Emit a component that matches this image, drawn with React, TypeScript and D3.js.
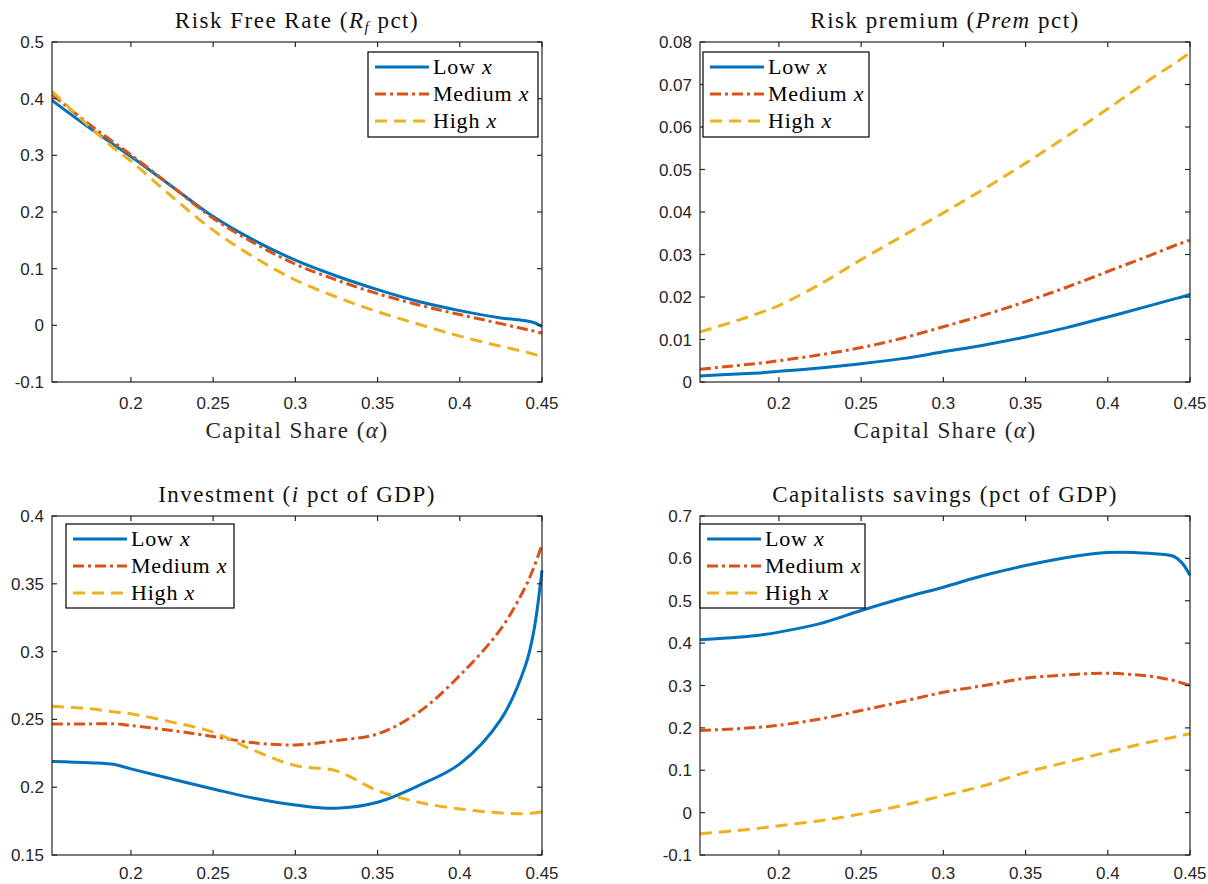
import React from 'react';
import * as d3 from 'd3';

// ---------- DATA ----------
const alpha = [0.152, 0.175, 0.19, 0.2, 0.225, 0.25, 0.275, 0.3, 0.325, 0.35, 0.375, 0.4, 0.425, 0.44, 0.445, 0.45];

const rfLow = [0.397, 0.348, 0.318, 0.298, 0.245, 0.192, 0.150, 0.115, 0.087, 0.063, 0.042, 0.026, 0.013, 0.008, 0.005, -0.002];
const rfMed = [0.407, 0.354, 0.322, 0.301, 0.245, 0.189, 0.145, 0.108, 0.080, 0.056, 0.036, 0.019, 0.003, -0.007, -0.010, -0.014];
const rfHigh = [0.413, 0.350, 0.312, 0.290, 0.227, 0.168, 0.120, 0.080, 0.050, 0.024, 0.002, -0.019, -0.037, -0.047, -0.051, -0.055];

const premLow = [0.0014, 0.0019, 0.0022, 0.0025, 0.0033, 0.0043, 0.0055, 0.0071, 0.0087, 0.0106, 0.0128, 0.0153, 0.0179, 0.0195, 0.0200, 0.0206];
const premMed = [0.0030, 0.0039, 0.0045, 0.0050, 0.0064, 0.0081, 0.0103, 0.0130, 0.0158, 0.0189, 0.0223, 0.0260, 0.0297, 0.0320, 0.0327, 0.0334];
const premHigh = [0.0118, 0.0145, 0.0165, 0.0180, 0.0230, 0.0288, 0.0343, 0.0398, 0.0455, 0.0515, 0.0578, 0.0643, 0.0710, 0.0748, 0.0761, 0.0775];

const invLow = [0.219, 0.218, 0.2167, 0.2135, 0.206, 0.1987, 0.1918, 0.1869, 0.1845, 0.1889, 0.2012, 0.2172, 0.250, 0.290, 0.315, 0.360];
const invMed = [0.2467, 0.2467, 0.2467, 0.2455, 0.2418, 0.2374, 0.2327, 0.2312, 0.2344, 0.2393, 0.2553, 0.2824, 0.3168, 0.348, 0.362, 0.3788];
const invHigh = [0.2597, 0.2578, 0.2555, 0.2541, 0.248, 0.2406, 0.227, 0.216, 0.212, 0.1975, 0.1889, 0.184, 0.181, 0.1805, 0.181, 0.182];

const savLow = [0.408, 0.414, 0.420, 0.426, 0.446, 0.477, 0.506, 0.532, 0.560, 0.583, 0.602, 0.614, 0.612, 0.605, 0.590, 0.560];
const savMed = [0.194, 0.198, 0.202, 0.206, 0.221, 0.241, 0.262, 0.284, 0.300, 0.317, 0.325, 0.329, 0.322, 0.312, 0.306, 0.300];
const savHigh = [-0.050, -0.042, -0.036, -0.031, -0.019, -0.003, 0.017, 0.040, 0.064, 0.095, 0.119, 0.143, 0.166, 0.178, 0.182, 0.186];

const seriesLabels = ['Low', 'Medium', 'High'];
const xTicks = [0.2, 0.25, 0.3, 0.35, 0.4, 0.45];
const rfTicks = [-0.1, 0, 0.1, 0.2, 0.3, 0.4, 0.5];
const premTicks = [0, 0.01, 0.02, 0.03, 0.04, 0.05, 0.06, 0.07, 0.08];
const invTicks = [0.15, 0.2, 0.25, 0.3, 0.35, 0.4];
const savTicks = [-0.1, 0, 0.1, 0.2, 0.3, 0.4, 0.5, 0.6, 0.7];

// ---------- STYLE ----------
const colors = ['#0072BD', '#D95319', '#EDB120'];
const dashes = ['none', '11 4 3 4', '12 7'];
const axisColor = '#262626';
const serif = '"Liberation Serif", "Times New Roman", serif';
const sans = '"Liberation Sans", Arial, Helvetica, sans-serif';

type Panel = {
  key: string;
  left: number; top: number; width: number; height: number;
  yDomain: [number, number];
  yTicks: number[];
  series: number[][];
  title: React.ReactNode;
  xlabel: boolean;
  xTickDy: number;
  legend: { x: number; y: number; w: number; h: number };
};

const panels: Panel[] = [
  {
    key: 'rf', left: 52, top: 42, width: 490, height: 340,
    yDomain: [-0.1, 0.5], yTicks: rfTicks, series: [rfLow, rfMed, rfHigh],
    title: (<>Risk Free Rate (<tspan fontStyle="italic">R</tspan><tspan fontStyle="italic" fontSize="15" dy="4">f</tspan><tspan dy="-4"> pct)</tspan></>),
    xlabel: true, xTickDy: 27,
    legend: { x: 368, y: 52, w: 170, h: 85 },
  },
  {
    key: 'prem', left: 700, top: 42, width: 490, height: 340,
    yDomain: [0, 0.08], yTicks: premTicks, series: [premLow, premMed, premHigh],
    title: (<>Risk premium (<tspan fontStyle="italic">Prem</tspan> pct)</>),
    xlabel: true, xTickDy: 27,
    legend: { x: 703, y: 52, w: 166, h: 85 },
  },
  {
    key: 'inv', left: 52, top: 516, width: 490, height: 339,
    yDomain: [0.15, 0.4], yTicks: invTicks, series: [invLow, invMed, invHigh],
    title: (<>Investment (<tspan fontStyle="italic">i</tspan> pct of GDP)</>),
    xlabel: false, xTickDy: 24,
    legend: { x: 66, y: 524, w: 168, h: 84 },
  },
  {
    key: 'sav', left: 700, top: 516, width: 490, height: 339,
    yDomain: [-0.1, 0.7], yTicks: savTicks, series: [savLow, savMed, savHigh],
    title: (<>Capitalists savings (pct of GDP)</>),
    xlabel: false, xTickDy: 24,
    legend: { x: 700, y: 524, w: 165, h: 84 },
  },
];

function PanelView({ p }: { p: Panel }) {
  const x = d3.scaleLinear().domain([alpha[0], 0.45]).range([p.left, p.left + p.width]);
  const y = d3.scaleLinear().domain(p.yDomain).range([p.top + p.height, p.top]);
  const line = d3.line<number>()
    .x((_, i) => x(alpha[i]))
    .y((v) => y(v))
    .curve(d3.curveCatmullRom.alpha(0.5));
  const tl = 5;
  const right = p.left + p.width;
  const bottom = p.top + p.height;
  const clipId = `clip-${p.key}`;
  const rowY = [p.legend.y + 15, p.legend.y + 42, p.legend.y + 69];
  return (
    <g>
      <defs>
        <clipPath id={clipId}>
          <rect x={p.left} y={p.top - 2} width={p.width + 2} height={p.height + 4} />
        </clipPath>
      </defs>
      {/* title */}
      <text x={p.left + p.width / 2} y={p.top - 14} textAnchor="middle" fontFamily={serif} fontSize={23}
        letterSpacing={1.5} fill="#111">
        {p.title}
      </text>
      {/* series */}
      <g clipPath={`url(#${clipId})`}>
        {p.series.map((s, i) => (
          <path key={i} d={line(s) || ''} fill="none" stroke={colors[i]} strokeWidth={3}
            strokeDasharray={dashes[i]} strokeLinejoin="round" />
        ))}
      </g>
      {/* axes box */}
      <rect x={p.left} y={p.top} width={p.width} height={p.height} fill="none" stroke={axisColor} strokeWidth={1.2} />
      {/* x ticks */}
      {xTicks.map((t) => (
        <g key={`xt${t}`}>
          <line x1={x(t)} x2={x(t)} y1={bottom} y2={bottom - tl} stroke={axisColor} strokeWidth={1.2} />
          <line x1={x(t)} x2={x(t)} y1={p.top} y2={p.top + tl} stroke={axisColor} strokeWidth={1.2} />
          <text x={x(t)} y={bottom + p.xTickDy} textAnchor="middle" fontFamily={sans} fontSize={17} fill={axisColor}>{String(t)}</text>
        </g>
      ))}
      {/* y ticks */}
      {p.yTicks.map((t) => (
        <g key={`yt${t}`}>
          <line x1={p.left} x2={p.left + tl} y1={y(t)} y2={y(t)} stroke={axisColor} strokeWidth={1.2} />
          <line x1={right} x2={right - tl} y1={y(t)} y2={y(t)} stroke={axisColor} strokeWidth={1.2} />
          <text x={p.left - 8} y={y(t) + 6} textAnchor="end" fontFamily={sans} fontSize={17} fill={axisColor}>{String(t)}</text>
        </g>
      ))}
      {p.xlabel && (
        <text x={p.left + p.width / 2} y={bottom + 56} textAnchor="middle" fontFamily={serif} fontSize={23}
          letterSpacing={1.5} fill="#262626">
          Capital Share (<tspan fontStyle="italic">α</tspan>)
        </text>
      )}
      {/* legend */}
      <g>
        <rect x={p.legend.x} y={p.legend.y} width={p.legend.w} height={p.legend.h} fill="#fff" stroke="#000" strokeWidth={1.2} />
        {seriesLabels.map((lab, i) => (
          <g key={lab}>
            <line x1={p.legend.x + 7} x2={p.legend.x + 61} y1={rowY[i]} y2={rowY[i]} stroke={colors[i]} strokeWidth={3}
              strokeDasharray={dashes[i]} />
            <text x={p.legend.x + 65} y={rowY[i] + 7} fontFamily={serif} fontSize={22} letterSpacing={0.8} fill="#000">
              {lab} <tspan fontStyle="italic">x</tspan>
            </text>
          </g>
        ))}
      </g>
    </g>
  );
}

export default function App() {
  return (
    <svg width={1208} height={884} viewBox="0 0 1208 884"
      style={{ position: 'absolute', left: 0, top: 0, background: '#fff' }}>
      <rect x={0} y={0} width={1208} height={884} fill="#fff" />
      {panels.map((p) => <PanelView key={p.key} p={p} />)}
    </svg>
  );
}
